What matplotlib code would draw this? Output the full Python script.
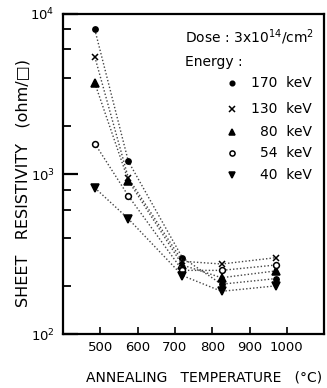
import matplotlib
matplotlib.use("Agg")
import matplotlib.pyplot as plt
from matplotlib.ticker import LogLocator, NullFormatter, FixedLocator

# annealing temperatures (deg C)
temps = [485, 575, 720, 825, 970]

# sheet resistivity (ohm/sq) for each implant energy
r_170 = [8000, 1200, 300, 205, 222]
r_130 = [5400, 945, 285, 274, 300]
r_80 = [3700, 910, 270, 225, 248]
r_54 = [1550, 730, 250, 250, 270]
r_40 = [820, 525, 232, 185, 200]

energies = ["170 keV", "130 keV", "80 keV", "54 keV", "40 keV"]
series = [r_170, r_130, r_80, r_54, r_40]
markers = ["o", "x", "^", "o", "v"]
fills = ["k", "k", "k", "white", "k"]
msizes = [3.8, 4.5, 5.2, 4.2, 5.2]

x_ticks = [500, 600, 700, 800, 900, 1000]

plt.rcParams["font.family"] = ["DejaVu Sans"]
fig = plt.figure(figsize=(3.27, 3.88), dpi=100)
ax = fig.add_axes([0.193, 0.139, 0.798, 0.825])

for vals, m, fc, ms in zip(series, markers, fills, msizes):
    ax.plot(temps, vals, linestyle=(0, (1, 1.5)), color="#444444", lw=1.0,
            marker=m, markerfacecolor=fc, markeredgecolor="k", markersize=ms,
            markeredgewidth=1.1)

ax.set_yscale("log")
ax.set_ylim(100, 10000)
ax.set_xlim(400, 1100)

ax.yaxis.set_major_locator(LogLocator(base=10))
ax.yaxis.set_minor_locator(LogLocator(base=10, subs=[2, 4, 6, 8]))
ax.yaxis.set_minor_formatter(NullFormatter())
ax.xaxis.set_major_locator(FixedLocator(x_ticks))

for s in ax.spines.values():
    s.set_linewidth(1.6)

ax.tick_params(axis="y", which="major", direction="in", length=11, width=1.6,
               labelsize=9.5, pad=6)
ax.tick_params(axis="y", which="minor", direction="in", length=6, width=1.3)
ax.tick_params(axis="x", which="major", direction="in", length=5, width=1.2,
               labelsize=9.5, pad=5)

# legend block
ax.text(0.467, 0.928, r"Dose : 3x10$^{14}$/cm$^2$", transform=ax.transAxes,
        fontsize=10, va="center", ha="left")
ax.text(0.467, 0.85, "Energy :", transform=ax.transAxes,
        fontsize=10, va="center", ha="left")
rows = [0.784, 0.703, 0.631, 0.566, 0.497]
for yy, lab, m, fc, ms in zip(rows, energies, markers, fills, msizes):
    ax.plot([0.648], [yy], transform=ax.transAxes, marker=m, markerfacecolor=fc,
            markeredgecolor="k", markersize=ms - 0.5, markeredgewidth=1.1,
            linestyle="none")
    ax.text(0.954, yy, lab.replace(" ", "  "), transform=ax.transAxes,
            fontsize=10, va="center", ha="right")

fig.text(0.07, 0.528, "SHEET   RESISTIVITY   (ohm/\u25a1)", rotation=90,
         fontsize=11.5, va="center", ha="center")
fig.text(0.625, 0.026, "ANNEALING   TEMPERATURE   (\u00b0C)",
         fontsize=10, va="center", ha="center")

fig.savefig("out.png", dpi=100)
